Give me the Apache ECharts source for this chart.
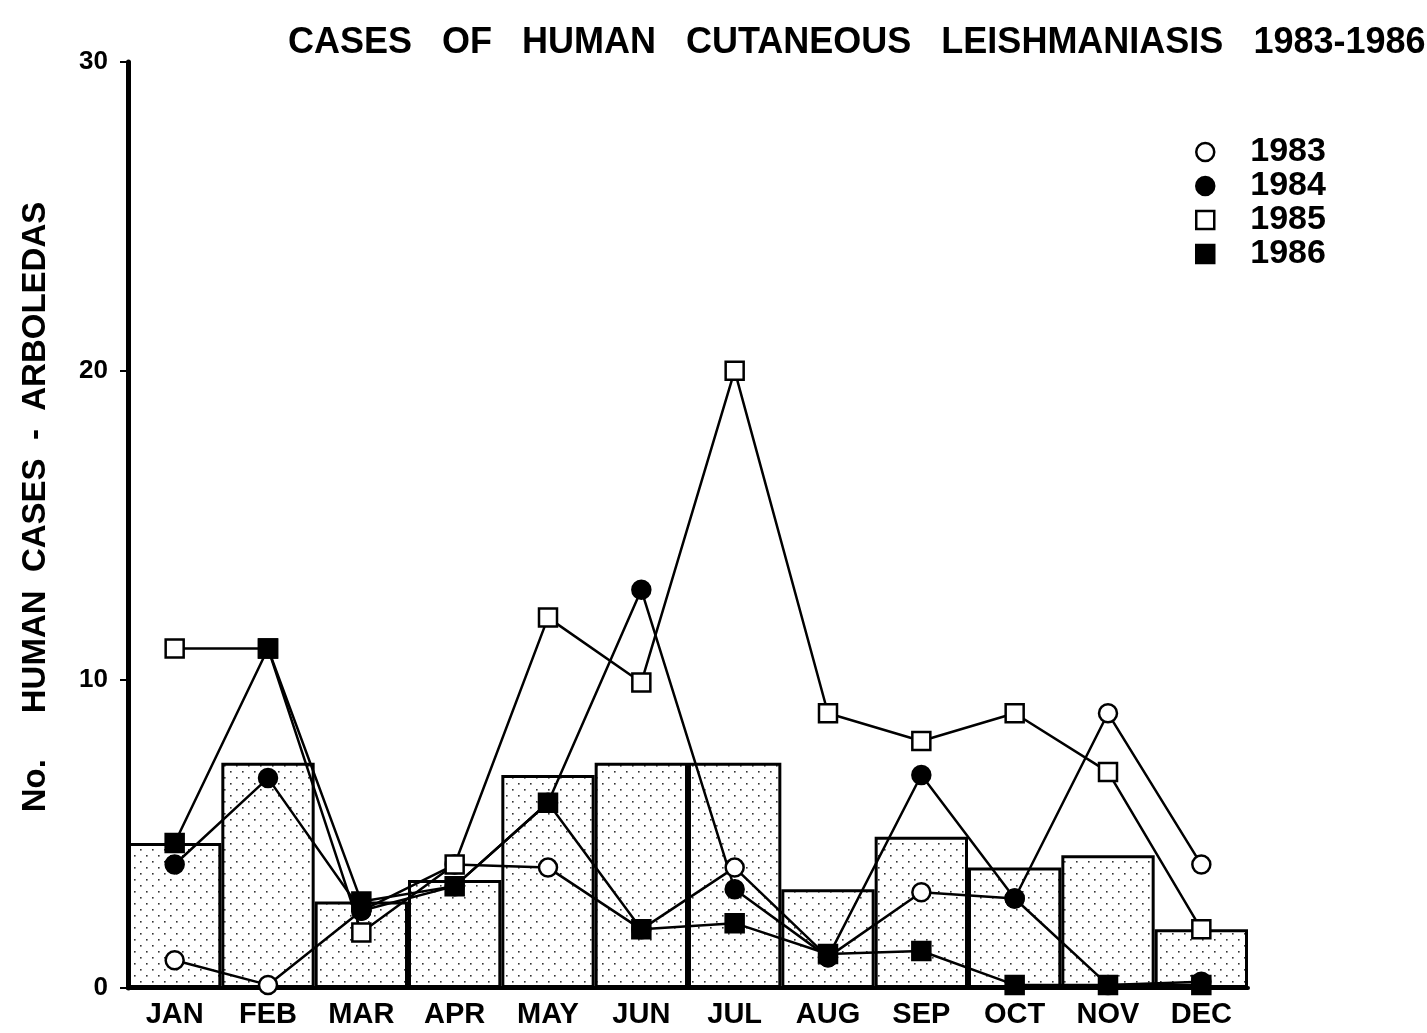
<!DOCTYPE html>
<html>
<head>
<meta charset="utf-8">
<title>Cases of human cutaneous leishmaniasis 1983-1986</title>
<script src="https://cdn.jsdelivr.net/npm/echarts@6/dist/echarts.min.js"></script>
<style>
  html, body { margin: 0; padding: 0; background: #fff; }
  #chart { width: 1427px; height: 1033px; }
</style>
</head>
<body>
<div id="chart"></div>
<script>
// months on the x axis
const months = ['JAN', 'FEB', 'MAR', 'APR', 'MAY', 'JUN', 'JUL', 'AUG', 'SEP', 'OCT', 'NOV', 'DEC']
const yTicks = [0, 10, 20, 30]

// stippled bars (mean of the four years)
const meanCases = [4.7, 7.3, 2.8, 3.5, 6.9, 7.3, 7.3, 3.2, 4.9, 3.9, 4.3, 1.9]

// yearly series
const cases1983 = [0.9, 0.1, 2.5, 4, 3.9, 1.9, 3.9, 1, 3.1, 2.9, 8.9, 4]
const cases1984 = [4, 6.8, 2.5, 3.3, 6, 12.9, 3.2, 1, 6.9, 2.9, 0.1, 0.2]
const cases1985 = [11, 11, 1.8, 4, 12, 9.9, 20, 8.9, 8, 8.9, 7, 1.9]
const cases1986 = [4.7, 11, 2.8, 3.3, 6, 1.9, 2.1, 1.1, 1.2, 0.1, 0.1, 0.1]

const FONT = '"Liberation Sans", Arial, sans-serif'

// sparse dotted fill like the printed halftone
const makeStipple = () => {
  const c = document.createElement('canvas')
  c.width = 12
  c.height = 12
  const ctx = c.getContext('2d')
  ctx.fillStyle = '#fff'
  ctx.fillRect(0, 0, 12, 12)
  ctx.fillStyle = '#333'
  ctx.fillRect(2, 3, 1.6, 1.6)
  ctx.fillRect(8, 9, 1.6, 1.6)
  return c
}

const chart = echarts.init(document.getElementById('chart'))

const lineSeries = (name, data, symbol, filled) => ({
  name: name,
  type: 'line',
  data: data,
  symbol: symbol,
  symbolSize: 18,
  z: 3,
  lineStyle: { color: '#000', width: 2.5 },
  itemStyle: { color: filled ? '#000' : '#fff', borderColor: '#000', borderWidth: 2.5 }
})

const legendItem = (name, icon, filled) => ({
  name: name,
  icon: icon,
  itemStyle: { color: filled ? '#000' : '#fff', borderColor: '#000', borderWidth: 2.5 }
})

const option = {
  animation: false,
  backgroundColor: '#fff',
  title: {
    text: 'CASES   OF   HUMAN   CUTANEOUS   LEISHMANIASIS   1983-1986',
    left: 283,
    top: 20,
    textStyle: { fontFamily: FONT, fontSize: 36, fontWeight: 'bold', color: '#000' }
  },
  legend: {
    orient: 'vertical',
    left: 1190,
    top: 130,
    itemWidth: 18,
    itemHeight: 18,
    itemGap: 0,
    textStyle: { fontFamily: FONT, fontSize: 34, fontWeight: 'bold', color: '#000', lineHeight: 33, padding: [0, 0, 0, 31] },
    data: [
      legendItem('1983', 'circle', false),
      legendItem('1984', 'circle', true),
      legendItem('1985', 'rect', false),
      legendItem('1986', 'rect', true)
    ]
  },
  grid: { left: 128, right: 179, top: 62, bottom: 45 },
  xAxis: {
    type: 'category',
    data: months,
    boundaryGap: true,
    axisLine: { lineStyle: { color: '#000', width: 4 } },
    axisTick: { show: false },
    axisLabel: { fontFamily: FONT, fontSize: 29, fontWeight: 'bold', color: '#000', margin: 12 }
  },
  yAxis: {
    type: 'value',
    min: yTicks[0],
    max: yTicks[yTicks.length - 1],
    interval: 10,
    name: 'No.     HUMAN  CASES  -  ARBOLEDAS',
    nameLocation: 'middle',
    nameGap: 76,
    nameTextStyle: { fontFamily: FONT, fontSize: 33, fontWeight: 'bold', color: '#000', padding: [0, 0, 0, 36] },
    axisLine: { show: true, lineStyle: { color: '#000', width: 5 } },
    axisTick: { show: true, length: 8, lineStyle: { color: '#000', width: 2 } },
    splitLine: { show: false },
    axisLabel: { fontFamily: FONT, fontSize: 26, fontWeight: 'bold', color: '#000', margin: 20 }
  },
  series: [
    {
      name: 'mean',
      type: 'bar',
      data: meanCases,
      barCategoryGap: '0%',
      z: 1,
      itemStyle: {
        color: { image: makeStipple(), repeat: 'repeat' },
        borderColor: '#000',
        borderWidth: 3
      }
    },
    lineSeries('1983', cases1983, 'circle', false),
    lineSeries('1984', cases1984, 'circle', true),
    lineSeries('1985', cases1985, 'rect', false),
    lineSeries('1986', cases1986, 'rect', true)
  ]
}

chart.setOption(option)
</script>
</body>
</html>
